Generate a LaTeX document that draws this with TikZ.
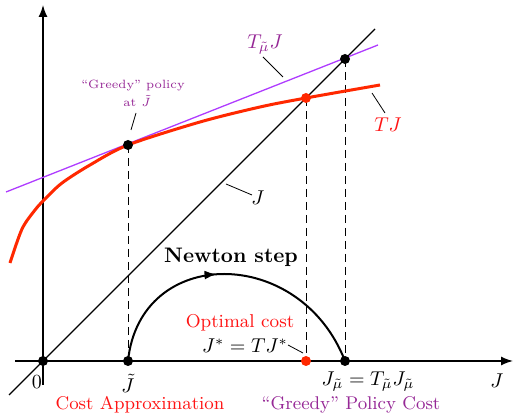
\documentclass[tikz,border=0pt]{standalone}
\usetikzlibrary{arrows.meta,decorations.markings}
\definecolor{curvered}{RGB}{255,40,0}
\definecolor{textred}{RGB}{255,20,20}
\definecolor{lineviolet}{RGB}{175,60,255}
\definecolor{textpurple}{RGB}{150,40,150}
\tikzset{
  axis/.style={line width=0.7pt,-{Latex[length=6pt,width=4.5pt]}},
  dot/.style={circle,fill=black,inner sep=0pt,minimum size=5pt},
  reddot/.style={circle,fill=curvered,inner sep=0pt,minimum size=5pt},
  guide/.style={line width=0.45pt,dash pattern=on 4pt off 2.5pt},
  leader/.style={line width=0.4pt},
  lbl/.style={inner sep=0pt},
  tinylbl/.style={inner sep=0pt,textpurple,font=\fontsize{6}{8}\selectfont},
}
\begin{document}
\begin{tikzpicture}[x=0.5pt,y=-0.5pt]
\useasboundingbox (0,0) rectangle (514,415);
% points
\coordinate (O) at (43,361);
\coordinate (Jt) at (128,361);
\coordinate (Js) at (306,361);
\coordinate (Jm) at (345,361);
\coordinate (P1) at (128,145);
\coordinate (P2) at (306,98);
\coordinate (P3) at (345,59);
% axes
\coordinate (xs) at (15,361); \coordinate (xe) at (513,361);
\coordinate (ys) at (43,385); \coordinate (ye) at (43,5);
\draw[axis] (xs) -- (xe);
\draw[axis] (ys) -- (ye);
% diagonal
\coordinate (ds) at (9,395); \coordinate (de) at (375,29);
\draw[line width=0.6pt] (ds) -- (de);
% dashed guides
\draw[guide] (P1) -- (Jt);
\draw[guide] (P2) -- (Js);
\draw[guide] (P3) -- (Jm);
% tangent line
\coordinate (ts) at (6,192); \coordinate (te) at (378,45);
\draw[lineviolet,line width=0.65pt] (ts) -- (te);
% TJ curve
\draw[curvered,line width=1.5pt,line join=round] plot[smooth,tension=0.5] coordinates
  {(10,263) (22,229) (35,210) (45,199) (62,183) (90,165) (128,145) (200,122) (260,107) (306,98) (380,85)};
% Newton arc
\draw[line width=1pt,postaction={decorate},
  decoration={markings,mark=at position 0.45 with {\arrow{Latex[length=6pt,width=4.5pt]}}}]
  (Jt) .. controls (140,245) and (300,245) .. (Jm);
% dots
\node[dot] (nO) at (O) {};
\node[dot] (nJt) at (Jt) {};
\node[reddot] (nJs) at (Js) {};
\node[dot] (nJm) at (Jm) {};
\node[dot] (nP1) at (P1) {};
\node[reddot] (nP2) at (P2) {};
\node[dot] (nP3) at (P3) {};
% axis labels
\node[lbl] (l0) at (37,382) {$0$};
\node[lbl] (lJt) at (128,383) {$\tilde J$};
\node[lbl] (lJm) at (368,382) {$J_{\tilde\mu}=T_{\tilde\mu}J_{\tilde\mu}$};
\node[lbl] (lJ) at (497,381) {$J$};
\node[lbl,textred] (lca) at (140,405) {\fontsize{9.2}{11}\selectfont Cost Approximation};
\node[lbl,textpurple] (lgc) at (351,405) {\fontsize{9.2}{11}\selectfont ``Greedy'' Policy Cost};
% greedy policy label
\node[tinylbl] (lgp) at (133,86) {``Greedy'' policy};
\node[tinylbl] (lgp2) at (137,101) {at $\tilde J$};
\coordinate (g1) at (136,113); \coordinate (g2) at (131,130);
\draw[leader] (g1) -- (g2);
% T_mu J label
\node[lbl,textpurple] (ltm) at (265,45) {$T_{\tilde\mu}J$};
\coordinate (t1) at (263,57); \coordinate (t2) at (283,77);
\draw[leader] (t1) -- (t2);
% TJ label
\node[lbl,textred] (ltj) at (388,125) {$TJ$};
\coordinate (r1) at (372,93); \coordinate (r2) at (385,113);
\draw[leader] (r1) -- (r2);
% J diagonal label
\node[lbl] (ldj) at (258,198) {$J$};
\coordinate (j1) at (226,184); \coordinate (j2) at (252,195);
\draw[leader] (j1) -- (j2);
% Newton step
\node[lbl] (lns) at (231,257) {\fontsize{10.5}{12}\selectfont\bfseries Newton step};
% optimal cost
\node[lbl,textred] (loc) at (240,323) {\fontsize{9.3}{11}\selectfont Optimal cost};
\node[lbl] (ljs) at (245,346) {$J^*=TJ^*$};
\coordinate (o1) at (288,345); \coordinate (o2) at (303,353);
\draw[leader] (o1) -- (o2);
\end{tikzpicture}
\end{document}
